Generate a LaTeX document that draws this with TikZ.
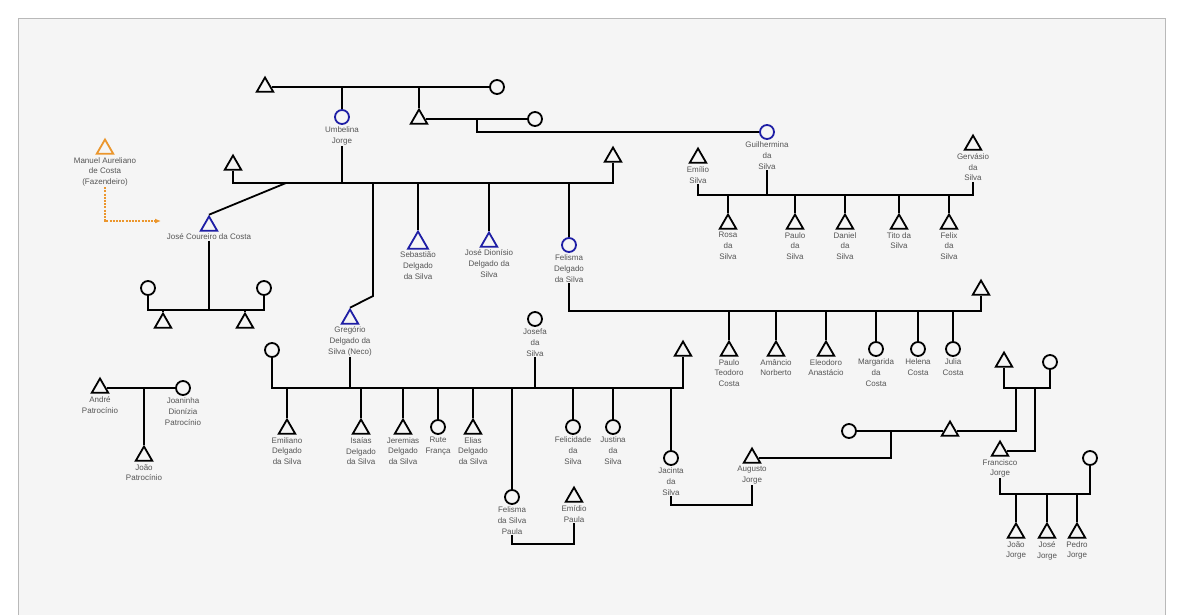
\documentclass[tikz,border=0pt]{standalone}
\usepackage{fontspec}
\setmainfont{Liberation Sans}
\usetikzlibrary{positioning,shapes.geometric,arrows.meta}

\definecolor{kinblue}{RGB}{30,30,165}
\definecolor{kinorange}{RGB}{235,150,45}
\definecolor{kintext}{RGB}{85,85,85}
\definecolor{kinback}{RGB}{245,245,245}

\tikzset{
  male/.style={regular polygon, regular polygon sides=3, draw, line width=1.8pt,
               minimum size=19pt, inner sep=0pt},
  female/.style={circle, draw, line width=1.8pt, minimum size=14pt, inner sep=0pt},
  ego/.style={draw=kinblue},
  who/.style={align=center, font=\fontsize{8}{10.8}\selectfont, text=kintext, inner sep=0.5pt},
  tie/.style={line width=1.8pt}
}

\begin{document}
\begin{tikzpicture}[x=1pt,y=-1pt]
  \useasboundingbox (0,0) rectangle (1183,614);
  \fill[white] (0,0) rectangle (1183,614);
  \draw[fill=kinback, draw=gray!55] (18,18) rectangle (1165,630);

  % oldest couples on top
  \node[male] (t1) at (265,87) {};
  \node[female] (c1) at (497,87) {};
  \draw[tie] (t1.east) -- (c1.west);
  \node[female, ego] (umb) at (342,117) {};
  \node[who, below=1.5pt of umb] (umb-l) {Umbelina\\Jorge};
  \draw[tie] (342,87) -- (umb.north);

  \node[male] (t2) at (419,119) {};
  \draw[tie] (419,87) -- (t2.corner 1);
  \node[female] (c2) at (535,119) {};
  \draw[tie] (t2.east) -- (c2.west);
  \node[female, ego] (gui) at (767,132) {};
  \node[who, below=1.5pt of gui] (gui-l) {Guilhermina\\da\\Silva};
  \draw[tie] (477,119) |- (gui.west);

  % Silva siblings
  \node[male] (emi) at (698,158) {};
  \node[who, below=2pt of emi] (emi-l) {Emílio\\Silva};
  \node[male] (gerv) at (973,145) {};
  \node[who, below=2pt of gerv] (gerv-l) {Gervásio\\da\\Silva};
  \coordinate (sl) at (698,195);
  \coordinate (sr) at (973,195);
  \draw[tie] (emi-l.south) -- (sl) -- (sr) -- (gerv-l.south);
  \draw[tie] (gui-l.south) -- (gui-l.south |- sl);
  \foreach \x/\n/\t in {728/rosa/{Rosa\\da\\Silva}, 795/paulo/{Paulo\\da\\Silva},
                        845/daniel/{Daniel\\da\\Silva}, 899/tito/{Tito da\\Silva},
                        949/felix/{Felix\\da\\Silva}} {
    \node[male] (\n) at (\x,224) {};
    \node[who, below=2pt of \n] (\n-l) {\t};
    \draw[tie] (\x,195) -- (\n.corner 1);
  }

  % Delgado da Silva siblings
  \node[male] (lt) at (233,165) {};
  \node[male] (rt) at (613,157) {};
  \coordinate (ml) at (233,183);
  \coordinate (mr) at (613,183);
  \draw[tie] (lt.south) -- (ml) -- (mr) -- (rt.south);
  \draw[tie] (umb-l.south) -- (342,183);

  \node[male, ego] (jcc) at (209,226) {};
  \node[who, below=1.5pt of jcc] (jcc-l) {José Coureiro da Costa};
  \draw[tie] (286,183) -- (jcc.corner 1);

  \node[male, ego] (greg) at (350,319) {};
  \node[who, below=1.5pt of greg] (greg-l) {Gregório\\Delgado da\\Silva (Neco)};
  \draw[tie] (373,183) -- (373,296) -- (greg.corner 1);

  \node[male, ego, minimum size=23pt] (seb) at (418,243) {};
  \node[who, below=1.5pt of seb] (seb-l) {Sebastião\\Delgado\\da Silva};
  \draw[tie] (418,183) -- (seb.corner 1);

  \node[male, ego] (jdi) at (489,242) {};
  \node[who, below=1.5pt of jdi] (jdi-l) {José Dionísio\\Delgado da\\Silva};
  \draw[tie] (489,183) -- (jdi.corner 1);

  \node[female, ego] (fel) at (569,245) {};
  \node[who, below=1.5pt of fel] (fel-l) {Felisma\\Delgado\\da Silva};
  \draw[tie] (569,183) -- (fel.north);

  % the fazendeiro
  \node[male, draw=kinorange] (man) at (105,149) {};
  \node[who, below=2pt of man] (man-l) {Manuel Aureliano\\de Costa\\(Fazendeiro)};
  \coordinate (mantip) at (161,221);
  \draw[kinorange, line width=1.2pt, dash pattern=on 2pt off 1.2pt, -{Latex[length=6pt,width=5pt]}]
    (man-l.south) |- (mantip);

  % José Coureiro family
  \node[female] (jca) at (148,288) {};
  \node[female] (jcb) at (264,288) {};
  \coordinate (jl) at (148,310);
  \coordinate (jr) at (264,310);
  \draw[tie] (jca.south) -- (jl) -- (jr) -- (jcb.south);
  \draw[tie] (jcc-l.south) -- (jcc-l.south |- jl);
  \node[male] (jsa) at (163,323) {};
  \node[male] (jsb) at (245,323) {};
  \draw[tie] (163,310) -- (jsa.corner 1);
  \draw[tie] (245,310) -- (jsb.corner 1);

  % Patrocínio
  \node[male] (andre) at (100,388) {};
  \node[who, below=2pt of andre] (andre-l) {André\\Patrocínio};
  \node[female] (joan) at (183,388) {};
  \node[who, below=1.5pt of joan] (joan-l) {Joaninha\\Dionízia\\Patrocínio};
  \draw[tie] (andre.east) -- (joan.west);
  \node[male] (joao) at (144,456) {};
  \node[who, below=2pt of joao] (joao-l) {João\\Patrocínio};
  \draw[tie] (144,388) -- (joao.corner 1);

  % Gregório family
  \node[female] (gw) at (272,350) {};
  \node[male] (gh) at (683,351) {};
  \coordinate (gl) at (272,388);
  \coordinate (gr) at (683,388);
  \draw[tie] (gw.south) -- (gl) -- (gr) -- (gh.south);
  \draw[tie] (greg-l.south) -- (greg-l.south |- gl);
  \node[female] (jos) at (535,319) {};
  \node[who, below=1.5pt of jos] (jos-l) {Josefa\\da\\Silva};
  \draw[tie] (jos-l.south) -- (jos-l.south |- gl);
  \foreach \x/\n/\t in {287/emil/{Emiliano\\Delgado\\da Silva}, 361/isai/{Isaías\\Delgado\\da Silva},
                        403/jere/{Jeremias\\Delgado\\da Silva}, 473/elia/{Elias\\Delgado\\da Silva}} {
    \node[male] (\n) at (\x,429) {};
    \node[who, below=2pt of \n] (\n-l) {\t};
    \draw[tie] (\x,388) -- (\n.corner 1);
  }
  \foreach \x/\n/\t in {438/rute/{Rute\\França}, 573/feli/{Felicidade\\da\\Silva},
                        613/just/{Justina\\da\\Silva}} {
    \node[female] (\n) at (\x,427) {};
    \node[who, below=1.5pt of \n] (\n-l) {\t};
    \draw[tie] (\x,388) -- (\n.north);
  }

  \node[female] (fz) at (512,497) {};
  \node[who, below=1.5pt of fz] (fz-l) {Felisma\\da Silva\\Paula};
  \draw[tie] (512,388) -- (fz.north);
  \node[male] (emd) at (574,497) {};
  \node[who, below=2pt of emd] (emd-l) {Emídio\\Paula};
  \draw[tie] (fz-l.south) -- (512,544) -| (emd-l.south);

  \node[female] (jac) at (671,458) {};
  \node[who, below=1.5pt of jac] (jac-l) {Jacinta\\da\\Silva};
  \draw[tie] (671,388) -- (jac.north);
  \node[male] (aug) at (752,458) {};
  \node[who, below=2pt of aug] (aug-l) {Augusto\\Jorge};
  \draw[tie] (jac-l.south) -- (671,505) -| (aug-l.south);

  % Jorge side
  \node[female] (cw) at (849,431) {};
  \node[male] (ch) at (950,431) {};
  \draw[tie] (cw.east) -- (ch.west);
  \draw[tie] (aug.east) -- (aug.east -| 891,0) -- (891,431);
  \node[male] (fa) at (1004,362) {};
  \node[female] (mo) at (1050,362) {};
  \draw[tie] (fa.south) -- (1004,388) -- (1050,388) -- (mo.south);
  \draw[tie] (ch.east) -- (1016,431) -- (1016,388);
  \node[male] (fj) at (1000,451) {};
  \node[who, below=2pt of fj] (fj-l) {Francisco\\Jorge};
  \draw[tie] (1035,388) |- (fj.east);
  \node[female] (mj) at (1090,458) {};
  \draw[tie] (fj-l.south) -- (1000,494) -- (1090,494) -- (mj.south);
  \foreach \x/\n/\t in {1016/jj/{João\\Jorge}, 1047/jsj/{José\\Jorge}, 1077/pj/{Pedro\\Jorge}} {
    \node[male] (\n) at (\x,533) {};
    \node[who, below=2pt of \n] (\n-l) {\t};
    \draw[tie] (\x,494) -- (\n.corner 1);
  }

  % Felisma family
  \node[male] (fr) at (981,290) {};
  \draw[tie] (fel-l.south) -- (569,311) -- (981,311) -- (fr.south);
  \foreach \x/\n/\t in {729/pau/{Paulo\\Teodoro\\Costa}, 776/ama/{Amâncio\\Norberto},
                        826/ele/{Eleodoro\\Anastácio}} {
    \node[male] (\n) at (\x,351) {};
    \node[who, below=2pt of \n] (\n-l) {\t};
    \draw[tie] (\x,311) -- (\n.corner 1);
  }
  \foreach \x/\n/\t in {876/mar/{Margarida\\da\\Costa}, 918/hel/{Helena\\Costa}, 953/jul/{Julia\\Costa}} {
    \node[female] (\n) at (\x,349) {};
    \node[who, below=1.5pt of \n] (\n-l) {\t};
    \draw[tie] (\x,311) -- (\n.north);
  }
\end{tikzpicture}
\end{document}
